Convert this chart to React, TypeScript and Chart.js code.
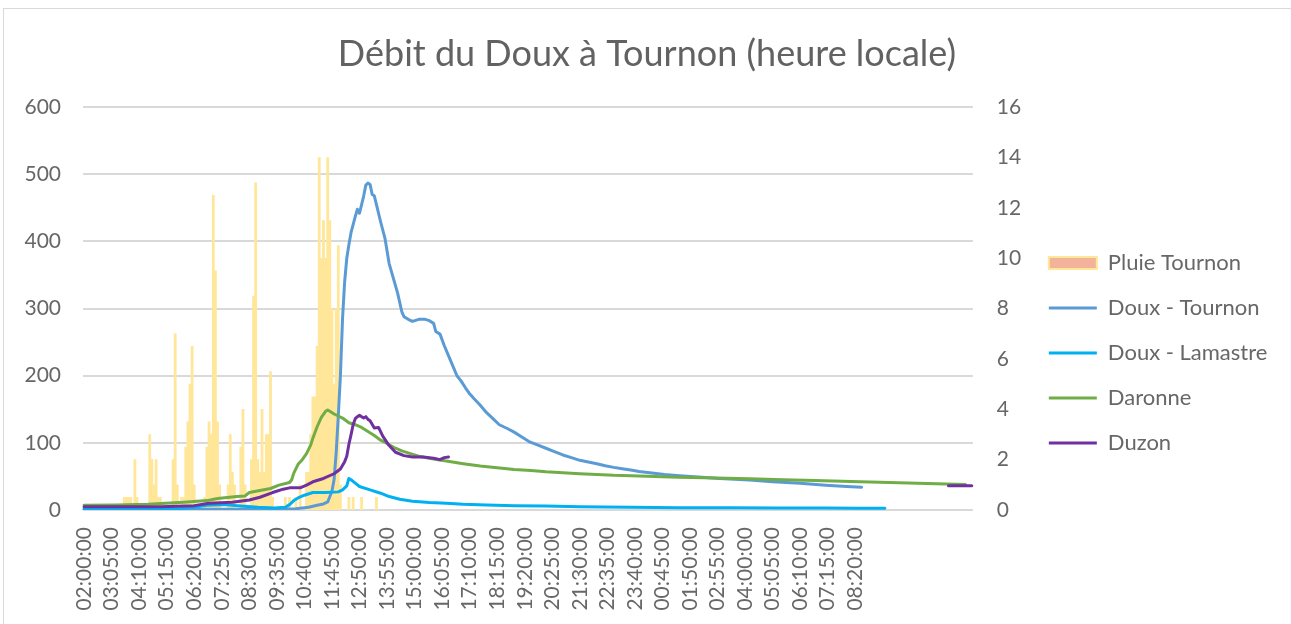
import { useEffect, useRef } from 'react';
import { Chart, registerables } from 'chart.js';

Chart.register(...registerables);

const TITLE = 'Débit du Doux à Tournon (heure locale)';

// Category axis: one category every 5 minutes, starting at 02:00:00
const START_MINUTES = 120;
const STEP_MINUTES = 5;
const CATEGORY_COUNT = 420;
const TIMESTAMPED_COUNT = 370; // rows carrying a time stamp
const TICK_EVERY = 13; // a label every 65 minutes

// Rain at Tournon (mm per 5 min), [category index, value] — right axis
const pluieTournon: [number, number][] = [
  [19, 0.5], [20, 0.5], [21, 0.5], [22, 0.5], [24, 2], [25, 0.5],
  [31, 3], [32, 2], [33, 1], [34, 2], [35, 0.5], [36, 0.5],
  [42, 2], [43, 7], [44, 1], [46, 0.5], [47, 0.5], [48, 2.5], [49, 3.5], [50, 5], [51, 6.5], [52, 1],
  [57, 0.5], [58, 2.5], [59, 3.5], [60, 3], [61, 12.5], [62, 9.5], [63, 3.5], [64, 1],
  [68, 1], [69, 3], [70, 1.5], [71, 1],
  [74, 2.5], [75, 4], [76, 1],
  [79, 2], [80, 8.5], [81, 13], [82, 2], [83, 1.5], [84, 4], [85, 1.5], [86, 3], [87, 3], [88, 5.5], [89, 0.5],
  [95, 0.5], [97, 0.5], [100, 0.5], [102, 1],
  [105, 1.5], [106, 1.5], [107, 3], [108, 4.5], [109, 4.5], [110, 6.5], [111, 14], [112, 10], [113, 11.5],
  [114, 10], [115, 14], [116, 11.5], [117, 8], [118, 5], [119, 8], [120, 10.5], [121, 1],
  [125, 0.5], [127, 0.5], [131, 0.5], [138, 0.5],
];

// Flows (m3/s), [category index, value] — left axis
const douxTournon: [number, number][] = [
  [0, 1], [30, 1], [60, 1], [90, 1], [100, 2], [106, 4], [110, 7], [113, 9], [115, 12], [117, 28], [118, 45],
  [119, 85], [120, 140], [121, 200], [122, 285], [123, 340], [124, 375], [125, 395], [126, 413], [128, 437],
  [129, 448], [130, 442], [131, 455], [132, 468], [133, 484], [134, 487], [135, 485], [136, 470], [137, 468],
  [138, 455], [140, 429], [142, 405], [144, 367], [146, 345], [148, 323], [150, 295], [151, 288], [153, 284],
  [155, 281], [158, 284], [161, 284], [163, 282], [165, 278], [166, 266], [168, 262], [170, 245], [172, 230],
  [174, 215], [176, 200], [178, 192], [180, 182], [182, 173], [184, 166], [187, 156], [190, 145], [193, 136],
  [196, 127], [200, 121], [203, 116], [207, 108], [210, 102], [214, 97], [218, 92], [222, 87], [226, 82],
  [230, 78], [234, 74], [238, 71.5], [242, 69], [246, 66], [250, 63.5], [254, 61.5], [258, 59.5], [262, 57.5],
  [266, 56], [270, 54.5], [274, 53], [281, 51], [290, 49], [300, 47], [314, 44.5], [325, 42], [338, 39.7],
  [350, 37], [360, 35], [367, 34],
];

const douxLamastre: [number, number][] = [
  [0, 1], [30, 1], [45, 2], [52, 4], [58, 7], [66, 8], [74, 6], [82, 4], [90, 3], [95, 4], [97, 8], [99, 14],
  [101, 18], [104, 22], [108, 26], [114, 26], [120, 27], [122, 30], [124, 36], [125, 47], [126, 45], [128, 40],
  [130, 35], [135, 30], [140, 25], [144, 20], [149, 16], [155, 13], [163, 11], [171, 10], [179, 8.5],
  [190, 7.5], [203, 6.5], [218, 5.8], [234, 5], [258, 4.2], [281, 3.5], [305, 3.2], [328, 3], [350, 2.8],
  [365, 2.6], [378, 2.5],
];

const daronne: [number, number][] = [
  [0, 7], [15, 7.5], [30, 8.5], [47, 11.5], [58, 14], [63, 17], [72, 20], [76, 21], [78, 26], [83, 29],
  [88, 32], [92, 37], [97, 41], [98, 45], [99, 55], [101, 68], [103, 75], [105, 84], [107, 97], [108, 107],
  [110, 124], [112, 138], [114, 147], [115, 149], [116, 147], [118, 143], [120, 140], [122, 137], [125, 130],
  [128, 127], [131, 123], [134, 117], [137, 111], [140, 104], [143, 99], [147, 92], [150, 88], [154, 84],
  [158, 80], [163, 77], [167, 75], [171, 73], [179, 69], [187, 65.5], [195, 63], [203, 60.5], [211, 59],
  [218, 57], [226, 55.5], [234, 54], [242, 53], [250, 51.6], [258, 51], [266, 50.1], [273, 49.5], [281, 48.7],
  [298, 47.5], [314, 46.5], [330, 45], [345, 44], [362, 42.5], [380, 41], [398, 39.5], [416, 38],
];

const duzon: [number, number][] = [
  [0, 5], [36, 5], [52, 6.5], [59, 10], [70, 11.5], [78, 15], [83, 19], [89, 26], [94, 31], [97, 33],
  [102, 33], [105, 37], [108, 42], [113, 47], [118, 54], [121, 61], [123, 72], [124, 80], [125, 98],
  [126, 112], [127, 127], [128, 136], [129, 139], [130, 141], [131, 139], [132, 137], [133, 139], [134, 135],
  [135, 133], [137, 122], [139, 123], [141, 110], [144, 96], [147, 86], [151, 81], [155, 79], [160, 79],
  [165, 77], [168, 75], [170, 78], [172, 79],
];

// Duzon resumes at the very end of the record
const duzonEnd: [number, number][] = [
  [408, 36], [419, 36],
];

const COLORS = {
  pluie: '#ffe699',
  pluieLegendFill: '#f3b39b',
  tournon: '#5b9bd5',
  lamastre: '#00b0f0',
  daronne: '#70ad47',
  duzon: '#7030a0',
  title: '#626262',
  text: '#676767',
  grid: '#d9d9d9',
};

function timeLabel(i: number): string {
  if (i >= TIMESTAMPED_COUNT) return '';
  const m = START_MINUTES + i * STEP_MINUTES;
  const hh = Math.floor(m / 60) % 24;
  const mm = m % 60;
  return `${String(hh).padStart(2, '0')}:${String(mm).padStart(2, '0')}:00`;
}

function toSeries(pairs: [number, number][]): (number | null)[] {
  const arr: (number | null)[] = new Array(CATEGORY_COUNT).fill(null);
  for (const [i, v] of pairs) arr[i] = v;
  return arr;
}

// Let the legend text run past its (capped) box, and centre the title on the framed area
const layoutTweaks = {
  id: 'layoutTweaks',
  afterLayout(chart: any) {
    const lg = chart.legend;
    if (lg) {
      lg.right = chart.width;
      lg.width = lg.right - lg.left;
    }
    const t = chart.titleBlock;
    if (t) {
      t.left = 3;
      t.right = chart.width;
      t.width = t.right - t.left;
    }
  },
};

export default function App() {
  const ref = useRef<HTMLCanvasElement>(null);

  useEffect(() => {
    document.body.style.overflow = 'hidden';
    const labels = Array.from({ length: CATEGORY_COUNT }, (_, i) => timeLabel(i));

    const line = (label: string, color: string, pairs: [number, number][], order: number, extra: any = {}) => ({
      type: 'line' as const,
      label,
      data: toSeries(pairs),
      borderColor: color,
      backgroundColor: color,
      borderWidth: 3,
      pointRadius: 0,
      pointHoverRadius: 0,
      spanGaps: true,
      tension: 0,
      borderJoinStyle: 'round' as const,
      borderCapStyle: 'round' as const,
      yAxisID: 'y',
      order,
      ...extra,
    });

    const datasets: any[] = [
      {
        type: 'bar',
        label: 'Pluie Tournon',
        data: toSeries(pluieTournon),
        backgroundColor: COLORS.pluie,
        borderWidth: 0,
        barPercentage: 1,
        categoryPercentage: 1,
        yAxisID: 'y1',
        order: 10,
      },
      line('Doux - Tournon', COLORS.tournon, douxTournon, 5),
      line('Doux - Lamastre', COLORS.lamastre, douxLamastre, 4),
      line('Daronne', COLORS.daronne, daronne, 3),
      line('Duzon', COLORS.duzon, duzon, 2),
      line('Duzon', COLORS.duzon, duzonEnd, 2, { hideInLegend: true }),
    ];

    const tickFont = { family: 'Lato', size: 21 };

    const chart = new Chart(ref.current!, {
      type: 'bar',
      data: { labels, datasets },
      plugins: [layoutTweaks],
      options: {
        responsive: false,
        animation: false,
        events: [],
        layout: { padding: { left: 0, right: 60, top: 0, bottom: 0 } },
        plugins: {
          tooltip: { enabled: false },
          title: {
            display: true,
            text: TITLE,
            color: COLORS.title,
            font: { family: 'Lato', size: 36, weight: 'normal' },
            padding: { top: 33, bottom: 31 },
          },
          legend: {
            position: 'right',
            align: 'start',
            title: { display: true, text: '', font: { size: 10 }, padding: { top: 217, bottom: 0 } },
            labels: {
              usePointStyle: true,
              pointStyleWidth: 48,
              boxHeight: 12,
              padding: 23,
              color: COLORS.text,
              font: { family: 'Lato', size: 22 },
              generateLabels: (c: any) =>
                c.data.datasets
                  .map((ds: any, i: number) => {
                    const isBar = ds.type === 'bar';
                    return {
                      text: ds.label,
                      datasetIndex: i,
                      hidden: false,
                      pointStyle: isBar ? 'rect' : 'line',
                      fillStyle: isBar ? COLORS.pluieLegendFill : ds.borderColor,
                      strokeStyle: isBar ? COLORS.pluie : ds.borderColor,
                      lineWidth: isBar ? 2 : 3,
                      fontColor: COLORS.text,
                      _hide: !!ds.hideInLegend,
                    };
                  })
                  .filter((it: any) => !it._hide),
            },
          },
        },
        scales: {
          x: {
            grid: { display: false, drawTicks: false },
            border: { display: false },
            ticks: {
              autoSkip: false,
              maxRotation: 90,
              minRotation: 90,
              padding: 17,
              color: COLORS.text,
              font: tickFont,
              callback: function (this: any, value: any, index: number) {
                return index % TICK_EVERY === 0 ? this.getLabelForValue(value) : '';
              },
            },
            afterFit: (s: any) => {
              s.height = 114;
            },
          },
          y: {
            position: 'left',
            min: 0,
            max: 600,
            ticks: { stepSize: 100, padding: 22, color: COLORS.text, font: tickFont },
            grid: { color: COLORS.grid, lineWidth: 2, drawTicks: false },
            border: { display: false },
            afterFit: (s: any) => {
              s.width = 83;
            },
          },
          y1: {
            position: 'right',
            min: 0,
            max: 16,
            ticks: { stepSize: 2, padding: 24, color: COLORS.text, font: tickFont },
            grid: { display: false, drawTicks: false },
            border: { display: false },
            afterFit: (s: any) => {
              s.width = 53;
            },
          },
        },
      } as any,
    });

    return () => chart.destroy();
  }, []);

  return (
    <div style={{ position: 'absolute', left: 0, top: 0, width: 1291, height: 624, background: '#ffffff', overflow: 'hidden' }}>
      <div
        style={{
          position: 'absolute',
          left: 3,
          top: 8,
          right: 0,
          bottom: 0,
          borderTop: '1px solid #d9d9d9',
          borderLeft: '1px solid #d9d9d9',
        }}
      />
      <canvas
        ref={ref}
        width={1291}
        height={624}
        style={{ position: 'absolute', left: 0, top: 0, width: 1291, height: 624 }}
      />
    </div>
  );
}
